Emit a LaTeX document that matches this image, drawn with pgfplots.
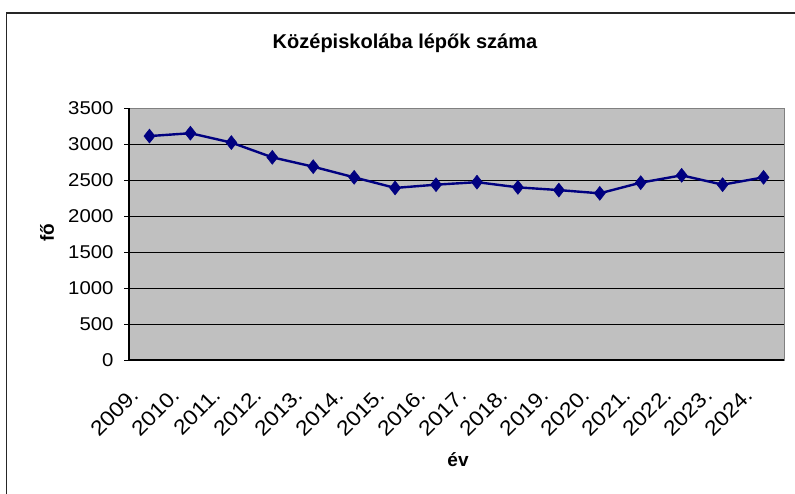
\documentclass[border=0pt]{standalone}
\usepackage{pgfplots}
\pgfplotsset{compat=1.18}
\usepackage{fontspec}
\setmainfont{Liberation Sans}
\newfontfamily\tickfont[FakeStretch=1.1]{Liberation Sans}
\definecolor{plotgray}{RGB}{192,192,192}
\definecolor{navyc}{RGB}{0,0,128}
\definecolor{bordergray}{RGB}{128,128,128}
\begin{document}
\begin{tikzpicture}[x=1pt,y=1pt]
\useasboundingbox (0,0) rectangle (795,-494);
\draw[line width=1.2pt, black!85] (6.5,-540) -- (6.5,-13) -- (840,-13);
\node[font=\bfseries\fontsize{20}{24}\selectfont] at (405,-43) {Középiskolába lépők száma};
\node[font=\bfseries\fontsize{19}{22}\selectfont, rotate=90] at (47,-233) {fő};
\node[font=\bfseries\fontsize{19}{22}\selectfont] at (458,-460) {év};
\begin{axis}[at={(129pt,-360pt)}, anchor=south west, scale only axis,
  width=655pt, height=252pt,
  xmin=0.5, xmax=16.5, ymin=0, ymax=3500,
  axis background/.style={fill=plotgray},
  axis line style={draw=bordergray, line width=1pt},
  ytick={0,500,...,3500},
  ymajorgrids, grid style={black, line width=0.8pt},
  tick style={black, line width=0.8pt},
  tick align=outside, major tick length=5pt,
  ytick pos=left, xtick pos=bottom,
  /pgf/number format/assume math mode=true,
  /pgf/number format/1000 sep={},
  yticklabel style={font=\tickfont\fontsize{18.5}{18.5}\selectfont, xshift=-7pt},
  xtick={1,...,16},
  xticklabels={2009.,2010.,2011.,2012.,2013.,2014.,2015.,2016.,2017.,2018.,2019.,2020.,2021.,2022.,2023.,2024.},
  xtick style={draw=none},
  xticklabel style={font=\tickfont\fontsize{21}{21}\selectfont, xshift=-6.5pt, yshift=-29pt, rotate=45, anchor=base east},
  extra x ticks={0.5,1.5,...,16.5},
  extra x tick labels={},
  extra x tick style={grid=none, tick style={black, line width=0.8pt}, major tick length=5pt},
  clip=false,
]
\draw[black, line width=1.5pt] (axis cs:0.5,3500) -- (axis cs:0.5,0) -- (axis cs:16.5,0);
\addplot[navyc, line width=2.4pt, mark=diamond*, mark size=7pt, mark options={fill=navyc, line width=0.5pt, xscale=1.05}]
coordinates {
(1,3110) (2,3150) (3,3020) (4,2815) (5,2685) (6,2537) (7,2390) (8,2435)
(9,2470) (10,2398) (11,2360) (12,2315) (13,2463) (14,2565) (15,2435) (16,2537)
};
\end{axis}
\end{tikzpicture}
\end{document}
